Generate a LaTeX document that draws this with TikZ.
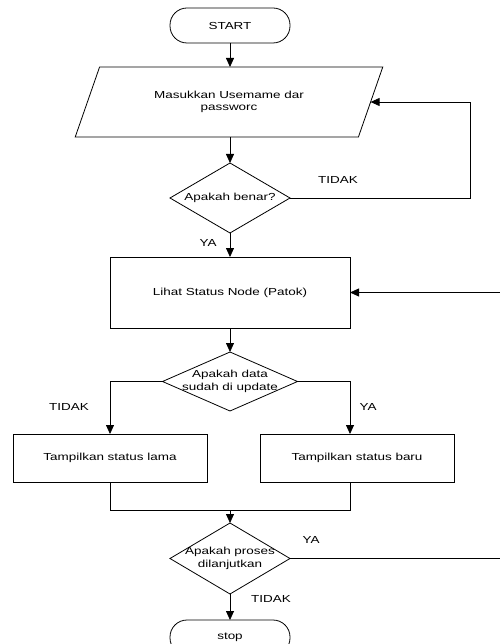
\documentclass[tikz,border=0pt]{standalone}
\usepackage{fontspec}
\setmainfont[FakeStretch=1.32]{Liberation Sans}
\usetikzlibrary{shapes.geometric,arrows.meta}
\begin{document}
\begin{tikzpicture}[x=1pt,y=-1pt,
  every node/.style={font=\fontsize{10.2}{12.4}\selectfont},
  base/.style={draw=black,line width=0.8pt,inner sep=0pt,outer sep=0pt},
  term/.style={base,rectangle,rounded corners=17pt,minimum width=120pt,minimum height=35pt},
  proc/.style={base,rectangle},
  io/.style={base,trapezium,trapezium left angle=57.26,trapezium right angle=122.74,
     trapezium stretches=true,minimum width=308pt,minimum height=70pt,align=center},
  dec/.style={base,diamond},
  lbl/.style={inner sep=0pt},
  arr/.style={draw=black,line width=0.8pt,-{Triangle[length=9pt,width=8pt]}},
  ln/.style={draw=black,line width=0.8pt}]
\useasboundingbox (0,0) rectangle (499,644);
% nodes
\node[term] (start) at (230,25.5) {START};
\node[io] (inp) at (229,102) {Masukkan Usemame dar\\passworc};
\node[dec,minimum width=120pt,minimum height=70pt,label={[lbl]center:Apakah benar?}] (d1) at (230,198) {};
\node[proc,minimum width=240pt,minimum height=71pt] (lihat) at (230,292.5) {Lihat Status Node (Patok)};
\node[dec,minimum width=135pt,minimum height=59pt,label={[lbl,align=center]center:Apakah data\\sudah di update}] (d2) at (230,381.5) {};
\node[proc,minimum width=194pt,minimum height=48pt] (tl) at (110,458) {Tampilkan status lama};
\node[proc,minimum width=194pt,minimum height=48pt] (tb) at (357,458) {Tampilkan status baru};
\node[dec,minimum width=120pt,minimum height=71pt,label={[lbl,align=center]center:Apakah proses\\dilanjutkan}] (d3) at (230,558.5) {};
\node[term] (stop) at (230,637.5) {stop};
% labels
\node[lbl] (l1) at (338,180) {TIDAK};
\node[lbl] (l2) at (208,243) {YA};
\node[lbl] (l3) at (69,407) {TIDAK};
\node[lbl] (l4) at (368,407) {YA};
\node[lbl] (l5) at (311,540) {YA};
\node[lbl] (l6) at (271,599) {TIDAK};
% helper coordinates
\coordinate (loopR) at (470,198);
\coordinate (join) at (230,510);
\coordinate (edgeB) at (502,558.5);
\coordinate (edgeT) at (502,292.5);
% connectors
\draw[arr] (start.south) -- (start.south |- inp.north);
\draw[arr] (inp.south -| d1.north) -- (d1.north);
\draw[arr] (d1.east) -- (loopR) |- (inp.east);
\draw[arr] (d1.south) -- (lihat.north);
\draw[arr] (lihat.south) -- (d2.north);
\draw[arr] (d2.west) -| (tl.north);
\draw[arr] (d2.east) -| ([xshift=-7pt]tb.north);
\draw[ln] (tl.south) |- (join);
\draw[ln] ([xshift=-7pt]tb.south) |- (join);
\draw[arr] (join) -- (d3.north);
\draw[arr] (d3.east) -- (edgeB) -- (edgeT) -- (lihat.east);
\draw[arr] (d3.south) -- (stop.north);
\end{tikzpicture}
\end{document}
